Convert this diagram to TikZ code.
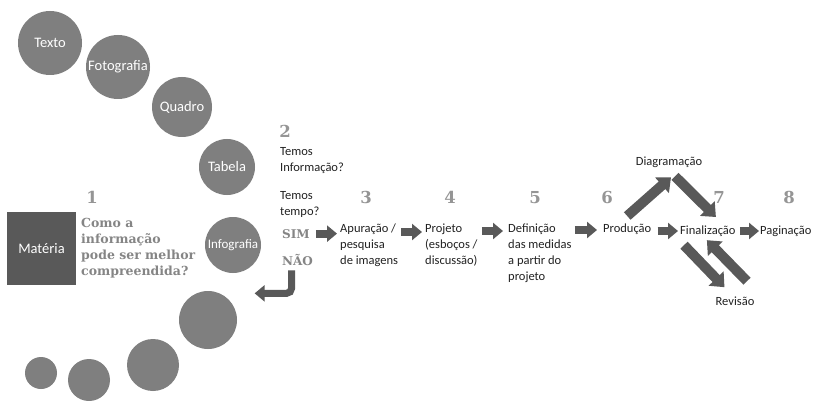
\documentclass[tikz,border=0pt]{standalone}
\usepackage{fontspec}
\setmainfont{Carlito}
\newfontfamily\slabfont{DejaVu Serif}
\usetikzlibrary{arrows.meta,calc}
\definecolor{discgray}{HTML}{7F7F7F}
\definecolor{boxgray}{HTML}{595959}
\definecolor{arrowgray}{HTML}{595959}
\definecolor{labelgray}{HTML}{858585}
\definecolor{digitgray}{HTML}{959595}
\definecolor{inkgray}{HTML}{222222}
\begin{document}
\begin{tikzpicture}[x=1pt,y=-1pt,
  disc/.style={circle,fill=discgray,draw=none,inner sep=0pt,minimum size=#1},
  labtext/.style={text=white,inner sep=0pt,font=\fontsize{14.5}{16}\selectfont},
  stepnum/.style={font=\slabfont\bfseries\fontsize{16.5}{18}\selectfont,text=digitgray,inner sep=0pt,anchor=base},
  body/.style={font=\fontsize{12.5}{16}\selectfont,text=inkgray,inner sep=0pt,align=left,anchor=north west},
  query/.style={font=\slabfont\bfseries\fontsize{12.5}{16}\selectfont,text=labelgray,inner sep=0pt,align=left,anchor=north west},
  answer/.style={font=\slabfont\bfseries\fontsize{12}{14}\selectfont,text=labelgray,inner sep=0pt,anchor=base west},
  blk/.style={draw=arrowgray,line width=8pt,-{Triangle[width=16pt,length=10pt]}},
  blkdiag/.style={draw=arrowgray,line width=10pt,-{Triangle[width=20pt,length=12pt]}}]

\fill[white] (0,0) rectangle (814,401);
\useasboundingbox (0,0) rectangle (814,401);

% chain of discs: kinds of content
\node[disc=64pt,label={[labtext]center:Texto}] (texto) at (50,43) {};
\node[disc=64pt,label={[labtext]center:Fotografia}] (foto) at (118,67) {};
\node[disc=60pt,label={[labtext]center:Quadro}] (quadro) at (182,107) {};
\node[disc=56pt,label={[labtext]center:Tabela}] (tabela) at (227,167) {};
\node[disc=56pt,label={[labtext,font=\fontsize{13}{15}\selectfont]center:Infografia}] (info) at (233,245) {};
\node[disc=58pt] (d6) at (208,320) {};
\node[disc=52pt] (d7) at (153,365) {};
\node[disc=42pt] (d8) at (89,380) {};
\node[disc=32pt] (d9) at (41,373) {};

% starting box
\node[fill=boxgray,minimum width=69pt,minimum height=73pt,inner sep=0pt,
      text=white,font=\fontsize{14.5}{16}\selectfont] (materia) at (41.5,248.5) {Matéria};

% step 1
\node[stepnum] (n1) at (92,203) {1};
\node[query] (q1) at (81,218) {Como a\\informação\\pode ser melhor\\compreendida?};

% step 2
\node[stepnum] (n2) at (285,138) {2};
\node[body] (q2a) at (280,147.5) {Temos\\Informação?};
\node[body] (q2b) at (280,191.5) {Temos\\tempo?};
\node[answer] (sim) at (282,238) {SIM};
\node[answer] (nao) at (282,265) {NÃO};

% main row
\node[stepnum] (n3) at (366,203) {3};
\node[body] (apur) at (340,224) {Apuração /\\pesquisa\\de imagens};
\node[stepnum] (n4) at (450,203) {4};
\node[body] (proj) at (425,224) {Projeto\\(esboços /\\discussão)};
\node[stepnum] (n5) at (535,203) {5};
\node[body] (defi) at (508,224) {Definição\\das medidas\\a partir do\\projeto};
\node[stepnum] (n6) at (607,203) {6};
\node[body] (prod) at (603,224) {Produção};
\node[stepnum] (n7) at (719,203) {7};
\node[body] (fina) at (680,226) {Finalização};
\node[stepnum] (n8) at (789,203) {8};
\node[body] (pagi) at (760,226) {Paginação};
\node[body,anchor=base] (diag) at (669,165) {Diagramação};
\node[body,anchor=base] (revi) at (735,305) {Revisão};

% straight block arrows
\draw[blk] ($(sim.east)+(6,0)$) -- ($(sim.east -| apur.west)+(-3,0)$);
\draw[blk] ($(apur.north east)+(3,8)$) -- ($(apur.north east -| proj.west)+(-3,8)$);
\draw[blk] ($(proj.north east)+(4,7)$) -- ($(proj.north east -| defi.west)+(-5,7)$);
\draw[blk] ($(defi.north east)+(3,6)$) -- ($(defi.north east -| prod.west)+(-6,6)$);
\draw[blk] ($(prod.north east)+(6,7)$) -- ($(prod.north east -| fina.west)+(-2,7)$);
\draw[blk] ($(fina.north east)+(4,5)$) -- ($(fina.north east -| pagi.west)+(-1,5)$);

% diagonal block arrows
\draw[blkdiag] ($(prod.north)+(0,-8)$) -- ($(diag.south)+(2,10)$);
\draw[blkdiag] ($(diag.south)+(6,9)$) -- ($(fina.north)+(8,-9)$);
\draw[blkdiag] ($(fina.south west)+(4,8)$) -- ($(revi.north west)+(9,-9)$);
\draw[blkdiag] ($(revi.north)+(12,-15)$) -- ($(fina.south)+(-1,3)$);

% bent arrow from NÃO back to the discs
\draw[blk,line width=7pt,rounded corners=5pt] ($(nao.south)+(-6,5)$) |- ($(d6.north east)+(26,-6)$);
\end{tikzpicture}
\end{document}
